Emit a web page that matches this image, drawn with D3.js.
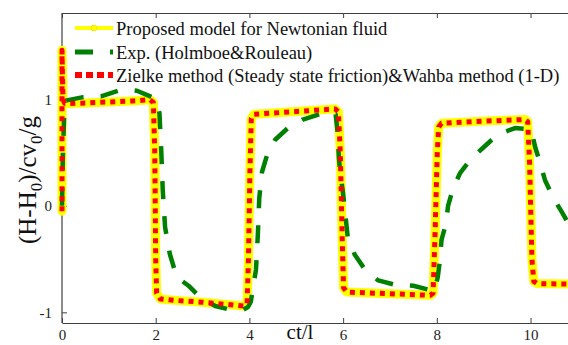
<!DOCTYPE html>
<html>
<head>
<meta charset="utf-8">
<script src="https://cdn.jsdelivr.net/npm/d3@7"></script>
<style>
  html, body { margin: 0; padding: 0; background: #fff; overflow: hidden; }
  svg { display: block; }
</style>
</head>
<body>
<div id="chart"></div>
<script>
var W = 568, H = 345;
var margin = {top: 13, right: 0, bottom: 22, left: 62};

// proposed model & Zielke/Wahba (both lie on top of each other)
var proposedX = [0, 0, 0.02, 0.06, 0.5, 1, 1.5, 1.88, 1.95, 1.98, 2.0, 2.02, 2.1, 2.5, 3, 3.5, 3.88, 3.95, 3.98, 4.01, 4.04, 4.1, 5, 5.83, 5.9, 5.94, 5.98, 6.01, 6.08, 7, 7.86, 7.92, 7.96, 8.01, 8.04, 8.1, 9, 9.88, 9.94, 9.98, 10.03, 10.07, 10.14, 10.8];
var proposedY = [-0.05, 1.46, 1.0, 0.96, 0.965, 0.975, 0.985, 0.995, 0.97, 0.5, -0.5, -0.82, -0.875, -0.89, -0.905, -0.925, -0.94, -0.92, -0.5, 0.3, 0.82, 0.86, 0.885, 0.91, 0.88, 0.5, -0.3, -0.77, -0.81, -0.825, -0.84, -0.82, -0.3, 0.5, 0.74, 0.775, 0.795, 0.81, 0.79, 0.4, -0.5, -0.71, -0.73, -0.735];
var zielkeY = [-0.05, 1.46, 1.0, 0.96, 0.965, 0.975, 0.985, 0.995, 0.97, 0.5, -0.5, -0.82, -0.875, -0.89, -0.905, -0.925, -0.94, -0.92, -0.5, 0.3, 0.82, 0.86, 0.885, 0.91, 0.88, 0.5, -0.3, -0.77, -0.81, -0.825, -0.84, -0.82, -0.3, 0.5, 0.74, 0.775, 0.795, 0.81, 0.79, 0.4, -0.5, -0.71, -0.73, -0.735];

// experiment (Holmboe & Rouleau)
var expX = [0, 0.02, 0.05, 0.1, 0.45, 0.85, 1.2, 1.4, 1.6, 1.92, 2.03, 2.08, 2.12, 2.15, 2.2, 2.3, 2.45, 2.7, 2.95, 3.27, 3.63, 3.85, 3.97, 4.03, 4.14, 4.18, 4.21, 4.27, 4.38, 4.55, 4.82, 5.14, 5.5, 5.7, 5.84, 5.88, 5.91, 5.94, 5.99, 6.04, 6.1, 6.25, 6.47, 6.75, 7.1, 7.5, 7.85, 7.95, 8.02, 8.07, 8.1, 8.2, 8.24, 8.35, 8.5, 8.75, 9.0, 9.3, 9.67, 9.99, 10.05, 10.1, 10.2, 10.31, 10.48, 10.67, 10.8];
var expY = [0, 0.5, 0.9, 0.99, 1.02, 1.03, 1.08, 1.09, 1.08, 1.02, 0.97, 0.87, 0.5, 0.15, -0.2, -0.45, -0.67, -0.75, -0.86, -0.94, -0.98, -0.98, -0.95, -0.9, -0.6, -0.27, 0.07, 0.32, 0.48, 0.62, 0.73, 0.81, 0.86, 0.88, 0.86, 0.7, 0.45, 0.3, 0.15, -0.05, -0.3, -0.46, -0.6, -0.7, -0.74, -0.75, -0.79, -0.8, -0.67, -0.5, -0.32, -0.16, 0.0, 0.17, 0.31, 0.45, 0.55, 0.67, 0.73, 0.72, 0.65, 0.55, 0.41, 0.24, 0.08, -0.06, -0.16];

var xTicks = [0, 2, 4, 6, 8, 10];
var yTicks = [-1, 0, 1];
var legendLabels = [
  "Proposed model for Newtonian fluid",
  "Exp. (Holmboe&Rouleau)",
  "Zielke method (Steady state friction)&Wahba method (1-D)"
];

var serif = "'Liberation Serif', 'Times New Roman', serif";
var axisColor = "#404040";

var svg = d3.select("#chart").append("svg")
  .attr("width", W)
  .attr("height", H);

var x = d3.scaleLinear().domain([0, 10.8]).range([margin.left, W - margin.right]);
var y = d3.scaleLinear().domain([-1.1, 1.81]).range([H - margin.bottom, margin.top]);

svg.append("defs").append("clipPath").attr("id", "plotclip")
  .append("rect")
  .attr("x", margin.left - 10)
  .attr("y", margin.top)
  .attr("width", W - margin.left + 10)
  .attr("height", H - margin.bottom - margin.top);

var plain = function(d) { return String(d); };

// axes
var xAxis = svg.append("g")
  .attr("transform", "translate(0," + (H - margin.bottom) + ")")
  .call(d3.axisBottom(x).tickValues(xTicks).tickSizeInner(-5).tickSizeOuter(0).tickPadding(8).tickFormat(plain));
var xTop = svg.append("g")
  .attr("transform", "translate(0," + margin.top + ")")
  .call(d3.axisTop(x).tickValues(xTicks).tickSizeInner(-5).tickSizeOuter(0).tickFormat(""));
var yAxis = svg.append("g")
  .attr("transform", "translate(" + margin.left + ",0)")
  .call(d3.axisLeft(y).tickValues(yTicks).tickSizeInner(-5).tickSizeOuter(0).tickPadding(10).tickFormat(plain));

[xAxis, xTop, yAxis].forEach(function(g) {
  g.select(".domain").attr("stroke", axisColor).attr("stroke-width", 1.2);
  g.selectAll(".tick line").attr("stroke", axisColor);
  g.selectAll(".tick text")
    .attr("fill", "#222")
    .style("font-family", serif)
    .style("font-size", "15px");
});
// x labels sit tight under the axis, like the reference
xAxis.selectAll(".tick text").attr("dy", "0.6em");
// extend the left axis to the top frame line
yAxis.select(".domain").attr("d", "M0," + margin.top + "V" + (H - margin.bottom));

// curves
var line = d3.line()
  .x(function(d) { return x(d[0]); })
  .y(function(d) { return y(d[1]); });

var proposed = proposedX.map(function(v, i) { return [v, proposedY[i]]; });
var zielke = proposedX.map(function(v, i) { return [v, zielkeY[i]]; });
var exp = expX.map(function(v, i) { return [v, expY[i]]; });

var plot = svg.append("g").attr("clip-path", "url(#plotclip)");

plot.append("path").datum(proposed)
  .attr("d", line)
  .attr("fill", "none")
  .attr("stroke", "#ffff00")
  .attr("stroke-width", 9)
  .attr("stroke-linejoin", "round")
  .attr("stroke-linecap", "round");

plot.append("path").datum(exp)
  .attr("d", line)
  .attr("fill", "none")
  .attr("stroke", "#008000")
  .attr("stroke-width", 4.5)
  .attr("stroke-dasharray", "18,17")
  .attr("stroke-linejoin", "round");

plot.append("path").datum(zielke)
  .attr("d", line)
  .attr("fill", "none")
  .attr("stroke", "#ff0000")
  .attr("stroke-width", 5)
  .attr("stroke-dasharray", "5,5")
  .attr("stroke-linejoin", "round");

// legend
var lx0 = 75, lx1 = 113, ltext = 116;
var rowY = [28, 52, 75];

var leg = svg.append("g");
leg.append("line")
  .attr("x1", lx0).attr("x2", lx1).attr("y1", rowY[0]).attr("y2", rowY[0])
  .attr("stroke", "#ffff00").attr("stroke-width", 4);
leg.append("circle")
  .attr("cx", (lx0 + lx1) / 2).attr("cy", rowY[0]).attr("r", 3)
  .attr("fill", "#ffff00").attr("stroke", "#e0d000").attr("stroke-width", 0.5);
leg.append("line")
  .attr("x1", lx0).attr("x2", lx1).attr("y1", rowY[1]).attr("y2", rowY[1])
  .attr("stroke", "#008000").attr("stroke-width", 5)
  .attr("stroke-dasharray", "18,17");
leg.append("line")
  .attr("x1", lx0).attr("x2", lx1).attr("y1", rowY[2]).attr("y2", rowY[2])
  .attr("stroke", "#ff0000").attr("stroke-width", 6)
  .attr("stroke-dasharray", "7,4");

leg.selectAll("text.lab")
  .data(legendLabels)
  .enter()
  .append("text")
  .attr("class", "lab")
  .attr("x", ltext)
  .attr("y", function(d, i) { return rowY[i] + 7; })
  .style("font-family", serif)
  .style("font-size", "18.5px")
  .attr("fill", "#111")
  .text(function(d) { return d; });

// axis titles (x title is clipped by the frame edge in the source; kept just inside here)
svg.append("text")
  .attr("x", 300)
  .attr("y", 339)
  .attr("text-anchor", "middle")
  .style("font-family", serif)
  .style("font-size", "21px")
  .attr("fill", "#111")
  .text("ct/l");

var yl = svg.append("text")
  .attr("transform", "translate(36,180) rotate(-90)")
  .attr("text-anchor", "middle")
  .style("font-family", serif)
  .style("font-size", "25px")
  .attr("fill", "#111");
yl.append("tspan").text("(H-H");
yl.append("tspan").attr("dy", 6).style("font-size", "17px").text("0");
yl.append("tspan").attr("dy", -6).text(")/cv");
yl.append("tspan").attr("dy", 6).style("font-size", "17px").text("0");
yl.append("tspan").attr("dy", -6).text("/g");
</script>
</body>
</html>
